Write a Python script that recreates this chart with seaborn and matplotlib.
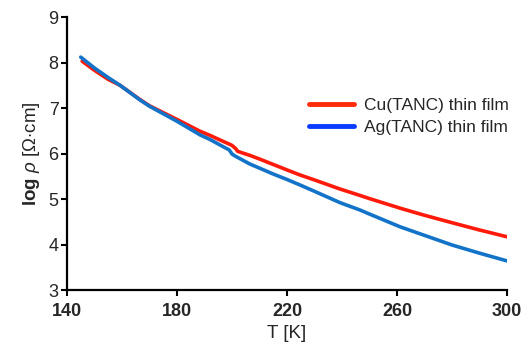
import numpy as np
import pandas as pd
import matplotlib.pyplot as plt
import seaborn as sns
from matplotlib.lines import Line2D

# values
temp_cu = [145.5, 150, 155, 159.3, 166.5, 170, 180, 188.4, 192, 195.6, 200, 201.5,
           202, 206.5, 210, 215, 220, 224.7, 230, 239.3, 242.9, 246.5, 250, 261.1,
           269.6, 280, 290, 300]
logrho_cu = [8.03, 7.83, 7.63, 7.50, 7.19, 7.05, 6.75, 6.49, 6.40, 6.30, 6.18, 6.10,
             6.05, 5.96, 5.88, 5.76, 5.64, 5.53, 5.42, 5.22, 5.15, 5.08, 5.01, 4.80,
             4.65, 4.48, 4.32, 4.17]

temp_ag = [145, 150, 155, 159.3, 166.5, 170, 180, 188.4, 192, 195.6, 199, 200, 201,
           206.5, 210, 215, 220, 224.7, 230, 239.3, 242.9, 246.5, 250, 261.1, 269.6,
           280, 290, 300]
logrho_ag = [8.12, 7.88, 7.67, 7.50, 7.18, 7.04, 6.71, 6.41, 6.31, 6.19, 6.08, 5.99,
             5.95, 5.77, 5.68, 5.55, 5.43, 5.31, 5.17, 4.92, 4.84, 4.76, 4.67, 4.39,
             4.21, 3.99, 3.81, 3.64]

series_names = ["Cu(TANC) thin film", "Ag(TANC) thin film"]
x_ticks = [140, 180, 220, 260, 300]
y_ticks = [3, 4, 5, 6, 7, 8, 9]

df = pd.concat([
    pd.DataFrame({"T": temp_cu, "logrho": logrho_cu, "film": series_names[0]}),
    pd.DataFrame({"T": temp_ag, "logrho": logrho_ag, "film": series_names[1]}),
])

sns.set_theme(style="ticks")
plt.rcParams["font.family"] = ["Liberation Sans", "DejaVu Sans"]
plt.rcParams["mathtext.fontset"] = "custom"
plt.rcParams["mathtext.rm"] = "Liberation Sans"
plt.rcParams["mathtext.it"] = "Liberation Sans:italic"
plt.rcParams["mathtext.bf"] = "Liberation Sans:bold"

fig = plt.figure(figsize=(5.3, 3.49), dpi=100)
ax = fig.add_axes([0.1264, 0.169, 0.8302, 0.782])

palette = {series_names[0]: "#ff1a0a", series_names[1]: "#1273c8"}
sns.lineplot(data=df, x="T", y="logrho", hue="film", palette=palette,
             linewidth=2.6, sort=False, ax=ax, legend=False)

ax.set_xlim(140, 300)
ax.set_ylim(3, 9)
ax.set_xticks(x_ticks)
ax.set_yticks(y_ticks)
for lab in ax.get_xticklabels():
    lab.set_fontweight("bold")
ax.tick_params(axis="x", labelsize=13, length=4, width=1.5, color="black", pad=5)
ax.tick_params(axis="y", labelsize=13, length=4, width=1.5, color="black", pad=2)
sns.despine(ax=ax)
for side in ["left", "bottom"]:
    ax.spines[side].set_linewidth(1.6)
    ax.spines[side].set_color("black")

ax.set_xlabel("T [K]", fontsize=13.5, labelpad=4)
ax.set_ylabel(r"$\mathbf{log}$ $\it{\rho}$ [Ω$\cdot$cm]", fontsize=13.5, labelpad=5)

# legend handles in the reference use a slightly different blue
handles = [Line2D([], [], color="#ff2a0a", linewidth=3.5),
           Line2D([], [], color="#0a3cff", linewidth=3.5)]
ax.legend(handles, series_names, loc="upper left", bbox_to_anchor=(0.535, 0.73),
          frameon=False, fontsize=12.5, handlelength=2.6, handletextpad=0.55,
          labelspacing=0.38, borderaxespad=0)

fig.savefig("out.png", dpi=100)
